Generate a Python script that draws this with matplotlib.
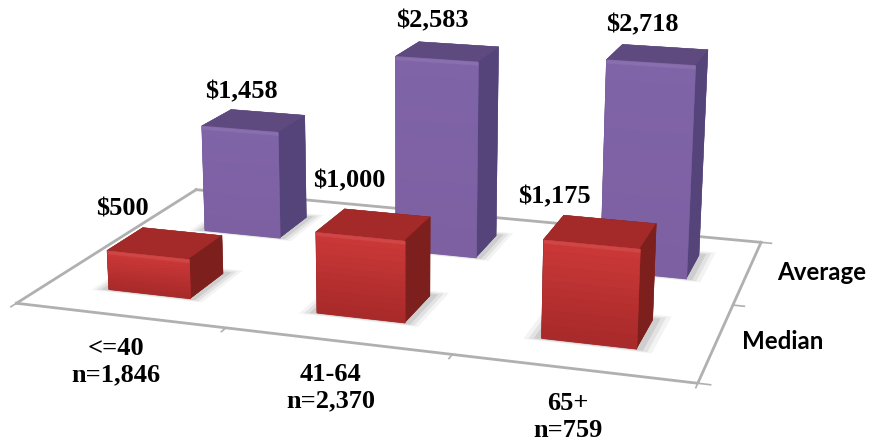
import numpy as np
import matplotlib
matplotlib.use("Agg")
import matplotlib.pyplot as plt
from matplotlib.colors import to_rgb
from mpl_toolkits.mplot3d.art3d import Poly3DCollection

groups = ["<=40\nn=1,846", "41-64\nn=2,370", "65+\nn=759"]
series = ["Median", "Average"]
median = [500, 1000, 1175]
average = [1458, 2583, 2718]

# label positions in figure pixels
W, H = 870, 444
group_xy = [(116, 362), (331, 388), (568, 417)]
series_xy = [(783, 341), (822, 272)]
med_xy = [(122, 209), (349, 181), (554, 197)]
avg_xy = [(241, 92), (432, 21), (642, 25)]

fig = plt.figure(figsize=(8.7, 4.44), dpi=100)
ax = fig.add_axes([-0.146, -0.431, 1.2, 2.1], projection="3d", computed_zorder=False)
ax.set_proj_type("persp", focal_length=0.36)
ax.view_init(elev=15, azim=-72)
ax.set_box_aspect((3.0, 1.9, 1.1), zoom=0.85)
ax.set_xlim(0, 3)
ax.set_ylim(0, 2)
ax.set_zlim(0, 3000)
ax.set_axis_off()

# floor
gray = "#b0b0b0"
ax.plot([0, 3, 3], [0, 0, 2], [0, 0, 0], color=gray, lw=2, zorder=1)
ax.plot([0, 0], [0, 2], [0, 0], color=gray, lw=2, zorder=1)
ax.plot([0, 3], [2, 2], [0, 0], color=gray, lw=2, zorder=1)
for t in range(4):
    ax.plot([t, t], [0, -0.05], [0, 0], color=gray, lw=1.2, zorder=1)
for t in range(3):
    ax.plot([3, 3.05], [t, t], [0, 0], color=gray, lw=1.2, zorder=1)


def mix(a, b, f):
    a, b = np.array(to_rgb(a)), np.array(to_rgb(b))
    return tuple(a + (b - a) * f)


def draw_bar(x, y, v, w, d, front, side, top, z):
    # soft shadow on the floor
    for grow, al in [(0.07, 0.06), (0.05, 0.09), (0.03, 0.12)]:
        quad = [(x - grow, y - grow / 2, 0), (x + w + grow, y - grow / 2, 0),
                (x + w + grow, y + d + grow, 0), (x - grow, y + d + grow, 0)]
        ax.add_collection3d(Poly3DCollection([quad], facecolor=(0.25, 0.25, 0.25, al), edgecolor="none", zorder=z), autolim=False)
    # whole bar first, side and top in one colour
    cols = [side, top, front[0], side, side, side]
    ax.bar3d(x, y, 0, w, d, v, color=cols, edgecolor=cols, linewidth=0.3, shade=False, zorder=z + 1)
    # slices on the front face only give the vertical gradient, last thin one is the bevel
    n = 14
    edges = np.r_[np.linspace(0, v - 40, n), v]
    for k in range(n):
        fc = mix(front[0], front[1], k / (n - 1))
        if k == n - 1:
            fc = mix(front[1], "#ffffff", 0.07)
        quad = [(x, y, edges[k]), (x + w, y, edges[k]), (x + w, y, edges[k + 1]), (x, y, edges[k + 1])]
        ax.add_collection3d(Poly3DCollection([quad], facecolor=fc, edgecolor=fc, linewidth=0.4, zorder=z + 1.1 + k * 0.01), autolim=False)


bw, bd = 0.4, 0.38
zz = 2
for i, v in enumerate(average):
    draw_bar(i + 0.545 - bw / 2, 1.5 - bd / 2, v, bw, bd, ("#7c60a2", "#8064a8"), "#54447a", "#5f4a80", zz)
    zz += 2
for i, v in enumerate(median):
    draw_bar(i + 0.5 - bw / 2, 0.5 - bd / 2, v, bw, bd, ("#a82a2a", "#cc3838"), "#7d1f1d", "#a32a28", zz)
    zz += 2

font = dict(family="Liberation Serif", weight="bold", size=19, ha="center", va="center", color="black")
for (px, py), v in zip(med_xy + avg_xy, median + average):
    fig.text(px / W, 1 - py / H, "${:,}".format(v), **font)
for (px, py), g in zip(group_xy, groups):
    fig.text(px / W, 1 - py / H, g, linespacing=1.2, **font)
for (px, py), s in zip(series_xy, series):
    fig.text(px / W, 1 - py / H, s, family="Lato", weight="bold", size=17.4, ha="center", va="center")

fig.savefig("out.png", dpi=100)
